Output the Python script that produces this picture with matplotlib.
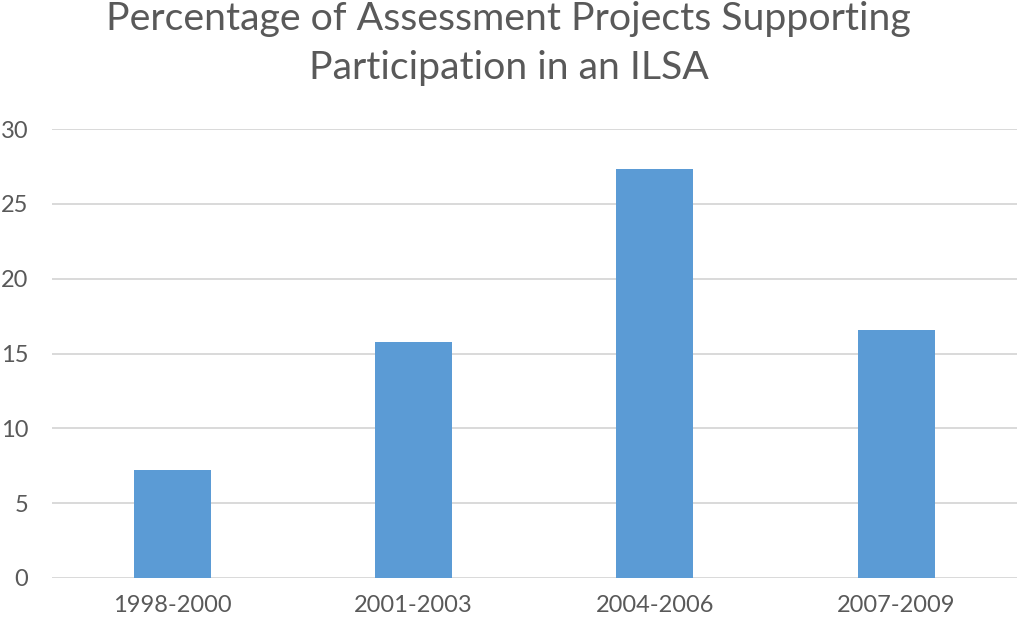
import matplotlib.pyplot as plt

# data
periods = ['1998-2000', '2001-2003', '2004-2006', '2007-2009']
percentages = [7.2, 15.8, 27.3, 16.6]
y_ticks = [0, 5, 10, 15, 20, 25, 30]

plt.rcParams['font.family'] = ['Lato', 'DejaVu Sans']
text_grey = '#595959'

fig = plt.figure(figsize=(10.17, 6.22), dpi=100)
ax = fig.add_axes([51.75 / 1017, 44 / 622, 965 / 1017, 449 / 622])

x = range(len(periods))
ax.bar(x, percentages, width=0.32, color='#5B9BD5', zorder=3)

ax.set_xlim(-0.5, len(periods) - 0.5)
ax.set_ylim(0, 30)
ax.set_yticks(y_ticks)
ax.set_xticks(list(x))
ax.set_xticklabels(periods)

# light grey gridlines, no frame
ax.grid(axis='y', color='#d9d9d9', linewidth=1.4, zorder=0)
for side in ax.spines.values():
    side.set_visible(False)
ax.tick_params(axis='both', length=0, colors=text_grey, labelsize=17)
ax.tick_params(axis='y', pad=17)
ax.tick_params(axis='x', pad=12)

fig.suptitle('Percentage of Assessment Projects Supporting\nParticipation in an ILSA',
             color=text_grey, fontsize=28.3, y=0.998, va='top', linespacing=1.45)

fig.savefig('out.png', dpi=100)
